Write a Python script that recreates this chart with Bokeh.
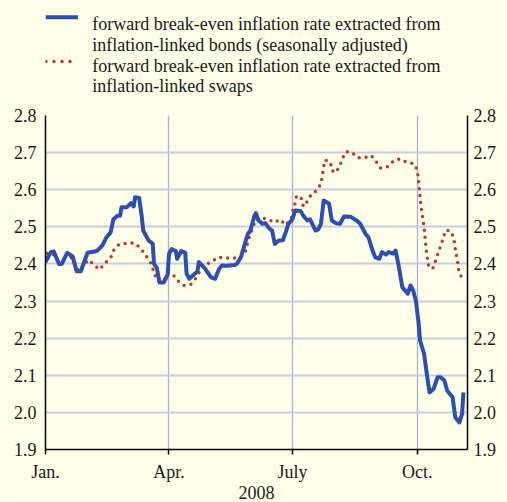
from bokeh.plotting import figure
from bokeh.models import Range1d, LinearAxis, FixedTicker, PrintfTickFormatter
from bokeh.layouts import column
from bokeh.embed import file_html
from bokeh.resources import INLINE
from bokeh.core.properties import value

# ---- data (day of year 2008, 0 = 1 Jan) ----
bond_days = [0, 4, 6, 10, 12, 16, 20, 23, 26, 28,
             31, 38, 42, 45, 48, 50, 53, 55, 56, 60,
             63, 65, 66, 69, 71, 72, 76, 79, 80, 82,
             84, 87, 90, 91, 93, 96, 97, 100, 103, 104,
             106, 109, 112, 113, 117, 119, 122, 125, 128, 130,
             134, 139, 141, 144, 149, 151, 154, 155, 157, 160,
             162, 165, 167, 169, 172, 175, 177, 179, 182, 184,
             188, 190, 193, 195, 199, 201, 203, 205, 209, 211,
             214, 217, 220, 225, 230, 232, 236, 238, 241, 243,
             246, 248, 251, 253, 256, 258, 260, 263, 267, 269,
             271, 273, 275, 276, 279, 281, 283, 286, 289, 291,
             294, 296, 300, 302, 305, 307, 308]
bond_rate = [2.405, 2.432, 2.434, 2.40, 2.40, 2.43, 2.42, 2.38, 2.38, 2.40,
             2.43, 2.435, 2.45, 2.472, 2.485, 2.52, 2.53, 2.53, 2.553, 2.553,
             2.564, 2.555, 2.58, 2.578, 2.526, 2.49, 2.463, 2.455, 2.40, 2.39,
             2.35, 2.35, 2.37, 2.427, 2.44, 2.435, 2.414, 2.435, 2.43, 2.374,
             2.36, 2.37, 2.38, 2.405, 2.39, 2.38, 2.364, 2.36, 2.387, 2.396,
             2.395, 2.397, 2.40, 2.418, 2.48, 2.49, 2.53, 2.537, 2.517, 2.508,
             2.51, 2.495, 2.49, 2.454, 2.463, 2.464, 2.485, 2.508, 2.52, 2.544,
             2.543, 2.53, 2.517, 2.52, 2.49, 2.493, 2.508, 2.571, 2.562, 2.517,
             2.51, 2.508, 2.528, 2.527, 2.515, 2.508, 2.48, 2.472, 2.436, 2.418,
             2.414, 2.432, 2.425, 2.432, 2.428, 2.436, 2.40, 2.337, 2.32, 2.342,
             2.328, 2.30, 2.24, 2.194, 2.158, 2.104, 2.054, 2.063, 2.095, 2.095,
             2.086, 2.059, 2.041, 1.987, 1.973, 1.996, 2.054]

swap_days = [1, 6, 9, 13, 17, 20, 22, 25, 28, 32,
             36, 40, 44, 48, 50, 54, 59, 65, 70, 73,
             77, 79, 81, 84, 87, 90, 94, 98, 102, 107,
             111, 114, 117, 122, 127, 133, 139, 145, 148, 149,
             151, 153, 155, 160, 164, 169, 173, 177, 181, 182,
             184, 185, 189, 190, 193, 196, 200, 203, 204, 205,
             206, 210, 211, 214, 217, 219, 222, 226, 230, 235,
             240, 244, 247, 252, 257, 261, 266, 271, 274, 275,
             276, 277, 278, 279, 280, 281, 282.5, 285.5, 287.5, 289.5,
             291.7, 293.4, 295.4, 298.5, 301, 301.7, 302.7, 303.9, 304.6, 307.2]
swap_rate = [2.429, 2.425, 2.407, 2.41, 2.43, 2.41, 2.394, 2.38, 2.398, 2.411,
             2.396, 2.385, 2.403, 2.416, 2.436, 2.452, 2.455, 2.457, 2.443, 2.427,
             2.407, 2.387, 2.367, 2.35, 2.355, 2.375, 2.371, 2.353, 2.342, 2.345,
             2.362, 2.382, 2.397, 2.405, 2.418, 2.416, 2.416, 2.421, 2.438, 2.459,
             2.481, 2.50, 2.52, 2.524, 2.52, 2.512, 2.52, 2.505, 2.52, 2.541,
             2.564, 2.584, 2.575, 2.555, 2.569, 2.589, 2.598, 2.616, 2.638, 2.661,
             2.68, 2.674, 2.652, 2.646, 2.665, 2.686, 2.703, 2.70, 2.686, 2.686,
             2.692, 2.674, 2.658, 2.662, 2.679, 2.683, 2.674, 2.671, 2.654, 2.62,
             2.58, 2.55, 2.523, 2.50, 2.46, 2.425, 2.39, 2.389, 2.409, 2.432,
             2.452, 2.475, 2.492, 2.488, 2.47, 2.447, 2.425, 2.402, 2.38, 2.36]

month_ticks = [0, 91, 182, 274]
month_labels = ["Jan.", "Apr.", "July", "Oct."]
y_ticks = [1.9, 2.0, 2.1, 2.2, 2.3, 2.4, 2.5, 2.6, 2.7, 2.8]
year_label = "2008"
legend_lines = ["forward break-even inflation rate extracted from",
                "inflation-linked bonds (seasonally adjusted)",
                "forward break-even inflation rate extracted from",
                "inflation-linked swaps"]

# ---- styles ----
BG = "#fefee9"
BLUE = "#2d4fb0"
RED = "#bf3a2e"
FONT = "Liberation Serif"
TXT = "#1a1a1a"
FS = "18px"

# ---- layout geometry (screen px) ----
FRAME_L, FRAME_R = 45, 467
LEG_H = 102

# ---- legend panel (its frame is aligned with the chart frame by the column layout) ----
leg = figure(width=507, height=LEG_H, x_range=Range1d(FRAME_L, FRAME_R), y_range=Range1d(LEG_H, 0),
             output_backend="svg", toolbar_location=None, min_border=0,
             min_border_left=FRAME_L, min_border_right=507 - FRAME_R,
             x_axis_location=None, y_axis_location=None)
leg.grid.visible = False
leg.outline_line_color = None
leg.background_fill_color = BG
leg.border_fill_color = BG
leg.line([45, 77.5], [16.7, 16.7], line_color=BLUE, line_width=4)
leg.line([45.5, 77.5], [61, 61], line_color=RED, line_width=3.5, line_dash="0 8", line_cap="round")
leg.text(x=[91.7] * 4, y=[23.3, 44.3, 65, 85.5], text=legend_lines,
         text_font=value(FONT), text_font_size=FS, text_baseline="alphabetic",
         text_color=TXT)

# ---- main chart ----
p = figure(frame_width=FRAME_R - FRAME_L, frame_height=334,
           x_range=Range1d(0, 311), y_range=Range1d(1.9, 2.8),
           output_backend="svg", toolbar_location=None,
           min_border_left=FRAME_L, min_border_right=507 - FRAME_R,
           min_border_top=13, min_border_bottom=53)
p.background_fill_color = BG
p.border_fill_color = BG
p.outline_line_color = None

p.add_layout(LinearAxis(), "right")

for ax in p.yaxis:
    ax.ticker = FixedTicker(ticks=y_ticks)
    ax.formatter = PrintfTickFormatter(format="%.1f")
    ax.major_tick_out = 0
    ax.major_tick_in = 0
    ax.minor_tick_out = 0
    ax.minor_tick_in = 0
    ax.axis_line_color = "black"
    ax.axis_line_width = 1.5
    ax.major_label_text_font = FONT
    ax.major_label_text_font_size = FS
    ax.major_label_text_color = TXT
p.yaxis[0].major_label_standoff = 9
p.yaxis[1].major_label_standoff = 6

xa = p.xaxis[0]
xa.ticker = FixedTicker(ticks=month_ticks)
xa.major_label_overrides = {t: l for t, l in zip(month_ticks, month_labels)}
xa.major_tick_out = 5
xa.major_tick_in = 0
xa.minor_tick_out = 0
xa.minor_tick_in = 0
xa.major_tick_line_color = "black"
xa.major_tick_line_width = 1.5
xa.axis_line_color = "black"
xa.axis_line_width = 1.5
xa.major_label_text_font = FONT
xa.major_label_text_font_size = FS
xa.major_label_text_color = TXT
xa.major_label_standoff = 7
xa.axis_label = year_label
xa.axis_label_text_font = FONT
xa.axis_label_text_font_size = FS
xa.axis_label_text_font_style = "normal"
xa.axis_label_text_color = TXT
xa.axis_label_standoff = 1

p.xgrid.ticker = FixedTicker(ticks=month_ticks)
p.xgrid.grid_line_color = "#a9b0e2"
p.xgrid.grid_line_width = 1.3
p.ygrid.ticker = FixedTicker(ticks=y_ticks)
p.ygrid.grid_line_color = "#c9cce9"
p.ygrid.grid_line_width = 2

p.line(swap_days, swap_rate, line_color=RED, line_width=3.5, line_dash="0 7", line_cap="round")
p.line(bond_days, bond_rate, line_color=BLUE, line_width=4, line_join="round")

layout = column(leg, p, spacing=0)

open("out.html", "w").write(file_html(layout, INLINE))
